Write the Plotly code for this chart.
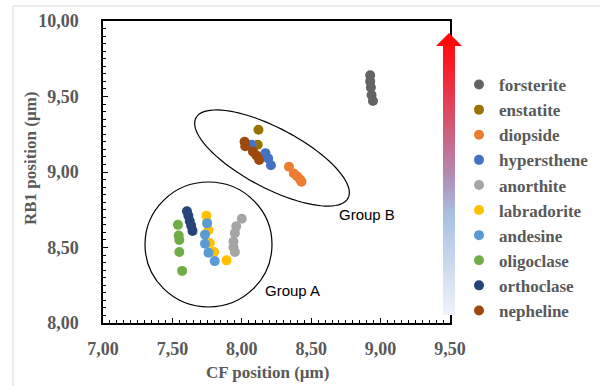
import numpy as np
import plotly.graph_objects as go

# ---------------- data ----------------
series_names = ["forsterite", "enstatite", "diopside", "hypersthene", "anorthite",
                "labradorite", "andesine", "oligoclase", "orthoclase", "nepheline"]
series_colors = ["#636363", "#997300", "#ED7D31", "#4472C4", "#A5A5A5",
                 "#FFC000", "#5B9BD5", "#70AD47", "#264478", "#9E480E"]

forsterite_x = [8.925, 8.925, 8.93, 8.935, 8.945]
forsterite_y = [9.64, 9.60, 9.56, 9.51, 9.47]
enstatite_x = [8.12, 8.115]
enstatite_y = [9.28, 9.18]
diopside_x = [8.34, 8.375, 8.40, 8.42, 8.43]
diopside_y = [9.035, 8.99, 8.97, 8.95, 8.935]
hypersthene_x = [8.07, 8.17, 8.19, 8.21]
hypersthene_y = [9.18, 9.125, 9.09, 9.045]
anorthite_x = [8.00, 7.96, 7.95, 7.94, 7.94, 7.95]
anorthite_y = [8.69, 8.64, 8.595, 8.54, 8.50, 8.47]
labradorite_x = [7.745, 7.75, 7.76, 7.77, 7.80, 7.89]
labradorite_y = [8.71, 8.665, 8.615, 8.53, 8.47, 8.415]
andesine_x = [7.75, 7.735, 7.735, 7.76, 7.805]
andesine_y = [8.66, 8.585, 8.525, 8.465, 8.41]
oligoclase_x = [7.54, 7.545, 7.55, 7.55, 7.57]
oligoclase_y = [8.65, 8.58, 8.55, 8.47, 8.345]
orthoclase_x = [7.605, 7.615, 7.625, 7.635, 7.645]
orthoclase_y = [8.74, 8.71, 8.675, 8.645, 8.61]
nepheline_x = [8.02, 8.025, 8.08, 8.105, 8.125]
nepheline_y = [9.20, 9.17, 9.135, 9.11, 9.08]

series_x = [forsterite_x, enstatite_x, diopside_x, hypersthene_x, anorthite_x,
            labradorite_x, andesine_x, oligoclase_x, orthoclase_x, nepheline_x]
series_y = [forsterite_y, enstatite_y, diopside_y, hypersthene_y, anorthite_y,
            labradorite_y, andesine_y, oligoclase_y, orthoclase_y, nepheline_y]

x_range = [7.0, 9.5]
y_range = [8.0, 10.0]
x_title = "CF position (µm)"
y_title = "RB1 position (µm)"

# ---------------- figure ----------------
W, H = 600, 386
ML, MR, MT, MB = 103, 150, 21, 63
PW, PH = W - ML - MR, H - MT - MB

def px2paper(px, py):
    return (px - ML) / PW, (H - MB - py) / PH

def px2data(px, py):
    return (x_range[0] + (px - ML) / PW * (x_range[1] - x_range[0]),
            y_range[1] - (py - MT) / PH * (y_range[1] - y_range[0]))

fig = go.Figure()
for name, col, xs, ys in zip(series_names, series_colors, series_x, series_y):
    fig.add_trace(go.Scatter(x=xs, y=ys, mode="markers", name=name,
                             marker=dict(color=col, size=10, line=dict(width=0))))

serif = "Liberation Serif"
gray = "#595959"

axis_common = dict(showgrid=False, zeroline=False, showline=True, linecolor="black",
                   linewidth=1.5, mirror=True, ticks="inside", ticklen=5,
                   tickcolor="black", tickformat=".2f",
                   tickfont=dict(family=serif, size=18, color=gray, weight="bold"),
                   minor=dict(ticks="inside", ticklen=3, tickcolor="black", dtick=0.05))

fig.update_xaxes(range=x_range, dtick=0.5, tick0=7.0, ticklabelstandoff=9, **axis_common)
fig.update_yaxes(range=y_range, dtick=0.5, tick0=8.0, ticklabelstandoff=19, **axis_common)

# Group A circle
cA = (208.5, 244.5); rA = (63.5, 62.5)
x0, y1 = px2data(cA[0] - rA[0], cA[1] - rA[1])
x1, y0 = px2data(cA[0] + rA[0], cA[1] + rA[1])
fig.add_shape(type="circle", xref="x", yref="y", x0=x0, x1=x1, y0=y0, y1=y1,
              line=dict(color="black", width=1.2))

# Group B rotated ellipse
cx, cy, a, b, th = 272.0, 158.0, 86.0, 30.0, np.deg2rad(27.8)
t = np.linspace(0, 2 * np.pi, 90)
ex = cx + a * np.cos(t) * np.cos(th) - b * np.sin(t) * np.sin(th)
ey = cy + a * np.cos(t) * np.sin(th) + b * np.sin(t) * np.cos(th)
pts = [px2data(u, v) for u, v in zip(ex, ey)]
path = "M " + " L ".join(f"{u:.4f},{v:.4f}" for u, v in pts) + " Z"
fig.add_shape(type="path", xref="x", yref="y", path=path,
              line=dict(color="black", width=1.2))

# group labels
for txt, (px, py) in [("Group A", (292, 290)), ("Group B", (367, 214))]:
    gx, gy = px2data(px, py)
    fig.add_annotation(x=gx, y=gy, xref="x", yref="y", text=txt, showarrow=False,
                       xanchor="center", yanchor="middle",
                       font=dict(family="Liberation Sans", size=15, color="black"))

# gradient arrow (decoration)
stops = [(45, (255, 16, 16)), (80, (240, 40, 56)), (130, (208, 92, 124)),
         (180, (176, 144, 184)), (215, (168, 192, 226)), (315, (238, 243, 251))]
def grad(py):
    for (p0, c0), (p1, c1) in zip(stops[:-1], stops[1:]):
        if p0 <= py <= p1:
            f = (py - p0) / (p1 - p0)
            return "rgb(%d,%d,%d)" % tuple(int(round(c0[i] + f * (c1[i] - c0[i]))) for i in range(3))
    return "rgb(%d,%d,%d)" % stops[-1][1]

top, bot, sx0, sx1 = 45, 315, 443, 455
n = 90
edges = np.linspace(top, bot, n + 1)
for k in range(n):
    ya, yb = edges[k], edges[k + 1]
    p0 = px2paper(sx0, yb); p1 = px2paper(sx1, ya)
    fig.add_shape(type="rect", xref="paper", yref="paper", x0=p0[0], x1=p1[0],
                  y0=p0[1], y1=p1[1] + 0.002, fillcolor=grad((ya + yb) / 2),
                  line=dict(width=0), layer="above")
hx = [px2paper(436, 46), px2paper(462, 46), px2paper(449, 33)]
hpath = "M {:.4f},{:.4f} L {:.4f},{:.4f} L {:.4f},{:.4f} Z".format(
    hx[0][0], hx[0][1], hx[1][0], hx[1][1], hx[2][0], hx[2][1])
fig.add_shape(type="path", xref="paper", yref="paper", path=hpath,
              fillcolor="rgb(255,10,10)", line=dict(width=0), layer="above")

# outer light frame
f0 = px2paper(13, 6)
fig.add_shape(type="rect", xref="paper", yref="paper", x0=f0[0], x1=2.0, y0=-1.0, y1=f0[1],
              line=dict(color="#d9d9d9", width=1), fillcolor="rgba(0,0,0,0)", layer="below")

# axis titles
tx = px2paper(267, 372)
fig.add_annotation(x=tx[0], y=tx[1], xref="paper", yref="paper", text=x_title,
                   showarrow=False, xanchor="center", yanchor="middle",
                   font=dict(family=serif, size=17, color=gray, weight="bold"))
ty = px2paper(30, 158)
fig.add_annotation(x=ty[0], y=ty[1], xref="paper", yref="paper", text=y_title, textangle=-90,
                   showarrow=False, xanchor="center", yanchor="middle",
                   font=dict(family=serif, size=17, color=gray, weight="bold"))

lg = px2paper(459, 67)
fig.update_layout(
    width=W, height=H, margin=dict(l=ML, r=MR, t=MT, b=MB, autoexpand=False),
    plot_bgcolor="white", paper_bgcolor="white", separators=",.",
    showlegend=True,
    legend=dict(x=lg[0], y=lg[1], xanchor="left", yanchor="top",
                font=dict(family=serif, size=17, color=gray, weight="bold"),
                bgcolor="rgba(0,0,0,0)", itemwidth=30, tracegroupgap=0),
)

fig.write_html("out.html", config={"displayModeBar": False},
               post_script="document.body.style.margin='0';document.body.style.padding='0';")
